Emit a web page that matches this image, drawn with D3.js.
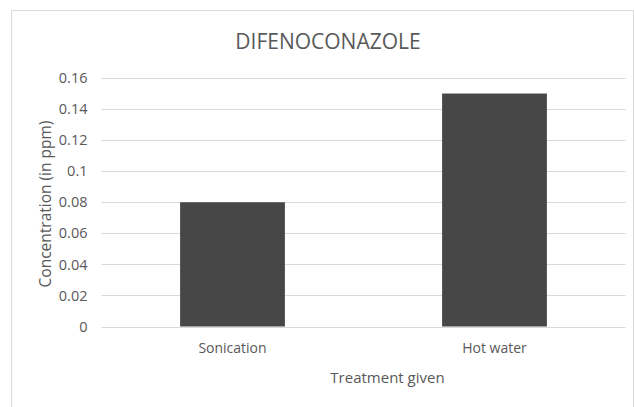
<!DOCTYPE html>
<html>
<head>
<meta charset="utf-8">
<script src="https://cdn.jsdelivr.net/npm/d3@7"></script>
<style>
  html, body { margin: 0; padding: 0; background: #fff; }
  svg { display: block; }
  text { font-family: "Open Sans", "Noto Sans", sans-serif; fill: #595959; }
</style>
</head>
<body>
<script>
// Residue of difenoconazole after each treatment
const categories = ["Sonication", "Hot water"];
const values = [0.08, 0.15];
const yTicks = [0, 0.02, 0.04, 0.06, 0.08, 0.1, 0.12, 0.14, 0.16];
const chartTitle = "DIFENOCONAZOLE";
const xTitle = "Treatment given";
const yTitle = "Concentration (in ppm)";

const width = 634, height = 407;
const plot = { left: 101.5, right: 625.5, top: 78, bottom: 326.5 };

const svg = d3.select("body").append("svg")
  .attr("width", width).attr("height", height);

// chart frame
svg.append("rect")
  .attr("x", 11.5).attr("y", 10.5)
  .attr("width", 622).attr("height", 420)
  .attr("fill", "#fff").attr("stroke", "#d9d9d9").attr("stroke-width", 1);

const x = d3.scaleBand()
  .domain(categories)
  .range([plot.left, plot.right])
  .paddingInner(0.6)
  .paddingOuter(0.3);

const y = d3.scaleLinear()
  .domain([0, 0.16])
  .range([plot.bottom, plot.top]);

// horizontal gridlines
svg.append("g")
  .selectAll("line")
  .data(yTicks)
  .join("line")
  .attr("x1", plot.left).attr("x2", plot.right)
  .attr("y1", d => Math.round(y(d)) + 0.5)
  .attr("y2", d => Math.round(y(d)) + 0.5)
  .attr("stroke", "#d9d9d9").attr("stroke-width", 1);

// y axis labels
const yAxis = d3.axisLeft(y)
  .tickValues(yTicks)
  .tickSize(0)
  .tickPadding(14)
  .tickFormat(d => d3.format("")(+d.toFixed(2)));
const gy = svg.append("g")
  .attr("transform", `translate(${plot.left},0)`)
  .call(yAxis);
gy.select(".domain").remove();
gy.selectAll("text")
  .style("font-size", "14.5px")
  .attr("fill", "#595959");

// bars
svg.append("g")
  .selectAll("rect")
  .data(values)
  .join("rect")
  .attr("x", (d, i) => x(categories[i]))
  .attr("y", d => y(d))
  .attr("width", x.bandwidth())
  .attr("height", d => y(0) - y(d))
  .attr("fill", "#474747");

// x axis labels
const xAxis = d3.axisBottom(x).tickSize(0).tickPadding(17);
const gx = svg.append("g")
  .attr("transform", `translate(0,${plot.bottom})`)
  .call(xAxis);
gx.select(".domain").remove();
gx.selectAll("text")
  .style("font-size", "14px")
  .attr("fill", "#595959");

// titles
svg.append("text")
  .attr("x", 328).attr("y", 48.5)
  .attr("text-anchor", "middle")
  .style("font-size", "21px")
  .text(chartTitle);

svg.append("text")
  .attr("x", 387.5).attr("y", 382.5)
  .attr("text-anchor", "middle")
  .style("font-size", "15px")
  .text(xTitle);

svg.append("text")
  .attr("transform", "translate(51,204) rotate(-90)")
  .attr("text-anchor", "middle")
  .style("font-size", "15.5px")
  .text(yTitle);
</script>
</body>
</html>
